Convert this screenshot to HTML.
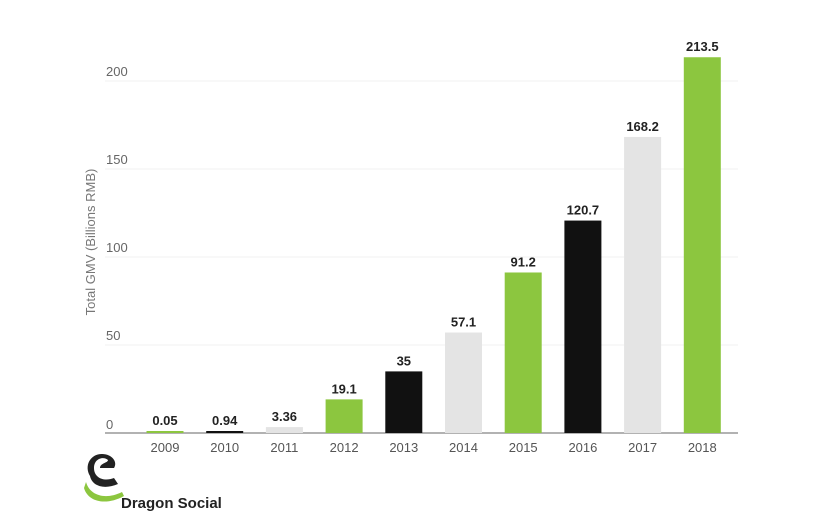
<!DOCTYPE html>
<html><head><meta charset="utf-8"><style>
body{margin:0;background:#fff;width:816px;height:523px;overflow:hidden;font-family:"Liberation Sans",sans-serif;}
</style></head><body>
<svg width="816" height="523" viewBox="0 0 816 523">
<g id="grid"></g>
<g id="bars"></g>
<text transform="translate(95,242) rotate(-90)" text-anchor="middle" font-size="13" fill="#777">Total GMV (Billions RMB)</text>
<g>
<path d="M90 476 C84 466 90 454 102 454 C112 454 118 462 114 468 L100 468 C100 463 108 463 108 460 C104 456 94 458 94 468 C94 478 104 482 114 478 L118 484 C104 490 92 486 90 476Z" fill="#222"/>
<path d="M86 482 C90 496 106 500 122 492 L124 496 C106 506 88 502 84 488Z" fill="#8cc63f"/>
<text x="121" y="508" font-size="15" font-weight="bold" fill="#222">Dragon Social</text>
</g>
</svg>
<script>
const categories=["2009","2010","2011","2012","2013","2014","2015","2016","2017","2018"];
const values=[0.05,0.94,3.36,19.1,35,57.1,91.2,120.7,168.2,213.5];
const labels=["0.05","0.94","3.36","19.1","35","57.1","91.2","120.7","168.2","213.5"];
const colorKeys=["green","black","grey","green","black","grey","green","black","grey","green"];
const yTicks=[0,50,100,150,200];
const palette={green:"#8cc63f",black:"#111111",grey:"#e4e4e4"};
const NS="http://www.w3.org/2000/svg";
const y0=433, scale=1.76;
const yS=v=>y0-v*scale;
const xS=i=>165+i*59.7;
const bw=37;
function mk(tag,attrs,parent,text){const e=document.createElementNS(NS,tag);for(const k in attrs)e.setAttribute(k,attrs[k]);if(text!==undefined)e.textContent=text;parent.appendChild(e);return e;}
const grid=document.getElementById('grid'), bars=document.getElementById('bars');
yTicks.forEach((t,i)=>{
  if(t>0){const l=mk('line',{x1:105,x2:738,y1:yS(t),y2:yS(t),stroke:"#f0f0f0","stroke-width":1},grid);
  
  }
  const tx=mk('text',{x:106,y:yS(t)-(t===0?4:5),"font-size":13,fill:"#666"},grid,String(t));
  
  
});
const ax=mk('line',{x1:105,x2:738,y1:y0,y2:y0,stroke:"#999","stroke-width":1.5},grid);


categories.forEach((c,i)=>{
  const cx=xS(i), top=yS(values[i]);
  const h=Math.max(y0-top,2);
  const r=mk('rect',{x:cx-bw/2,y:y0-h,width:bw,height:h,fill:palette[colorKeys[i]]},bars);
  
  
  const vl=mk('text',{x:cx,y:y0-h-6,"text-anchor":"middle","font-size":13,"font-weight":"bold",fill:"#222"},bars,labels[i]);
  
  
  const xl=mk('text',{x:cx,y:452,"text-anchor":"middle","font-size":13,fill:"#555"},bars,c);
  
  
});
</script>
</body></html>
